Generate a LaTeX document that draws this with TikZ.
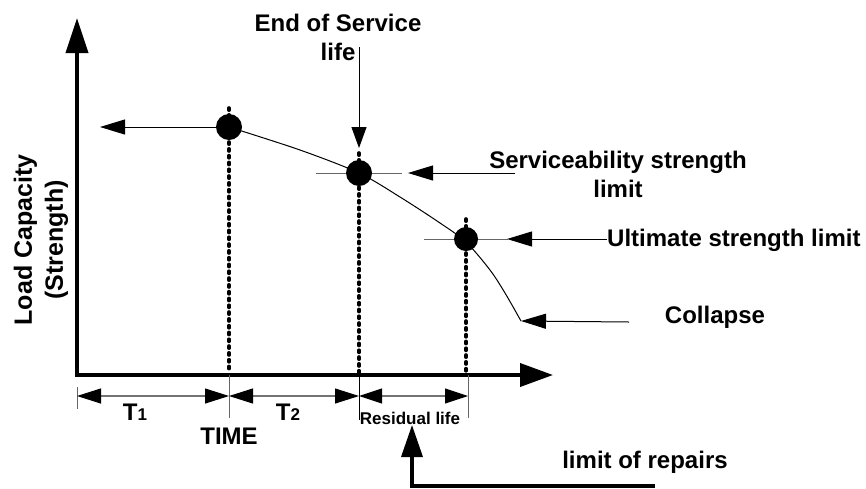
\documentclass[tikz,border=0pt]{standalone}
\usepackage{fontspec}
\setmainfont{Liberation Sans}
\usetikzlibrary{arrows.meta}
\begin{document}
\begin{tikzpicture}[x=1pt,y=-1pt,
  lbl/.style={font=\bfseries\fontsize{24}{29}\selectfont, inner sep=0pt, align=center},
  small lbl/.style={font=\bfseries\fontsize{17}{20}\selectfont, inner sep=0pt},
  thinline/.style={line width=1pt},
  dot/.style={circle, fill=black, minimum size=26pt, inner sep=0pt},
  dotline/.style={line width=3.6pt, dash pattern=on 2.2pt off 4.6pt, line cap=round},
  tick/.style={line width=1pt, draw=black!60},
  dim/.style={line width=1.1pt, draw=black!55},
  tipS/.style={-{Triangle[length=25pt,width=15pt,color=black]}},
  dimarrow/.style={dim,{Triangle[length=24pt,width=15pt,color=black]}-{Triangle[length=24pt,width=15pt,color=black]}},
  axis/.style={line width=3.8pt,{Triangle[length=35pt,width=22pt]}-{Triangle[length=33pt,width=23pt]}}
]
\useasboundingbox (0,0) rectangle (866,488);

% axes
\coordinate (Ytop) at (77,18);
\coordinate (O) at (77,375);
\coordinate (Xend) at (553,375);
\draw[axis] (Ytop) -- (O) -- (Xend);

% dotted verticals
\coordinate (Atop) at (229,108);
\coordinate (Abot) at (229,373);
\coordinate (Btop) at (359,153);
\coordinate (Bbot) at (359,373);
\coordinate (Ctop) at (466,219);
\coordinate (Cbot) at (466,373);
\draw[dotline] (Atop) -- (Abot);
\draw[dotline] (Btop) -- (Bbot);
\draw[dotline] (Ctop) -- (Cbot);

% horizontal ticks through B and C
\coordinate (BL) at (316,173);
\coordinate (BR) at (402,173);
\coordinate (CL) at (424,239);
\coordinate (CR) at (508,239);
\draw[tick] (BL) -- (BR);
\draw[tick] (CL) -- (CR);

% curve
\coordinate (Cend) at (521,321);
\draw[thinline] plot[smooth] coordinates {(229,127) (300,150) (359,173) (400,197) (440,223) (466,242) (490,270) (505,293) (521,321)};

% dots
\node[dot] (A) at (229,127) {};
\node[dot] (B) at (359,173) {};
\node[dot, minimum size=24pt] (C) at (466,239) {};

% arrow from A to the left
\coordinate (Aleft) at (100,127);
\draw[thinline, tipS] (A) -- (Aleft);

% End of service
\node[lbl] (eos) at (338,37) {End of Service\\life};
\coordinate (eosstart) at (359,47);
\coordinate (eostip) at (359,148);
\draw[thinline,-{Triangle[length=21pt,width=15pt]}] (eosstart) -- (eostip);

% Serviceability
\node[lbl] (serv) at (618,174) {Serviceability strength\\limit};
\coordinate (servstart) at (515,173);
\coordinate (servtip) at (408,173);
\draw[thinline, tipS] (servstart) -- (servtip);

% Ultimate
\node[lbl, anchor=west] (ult) at (607,240) {Ultimate strength limit};
\coordinate (ulttip) at (507,239);
\draw[thinline, tipS] (ult.west |- ulttip) -- (ulttip);

% Collapse
\node[lbl] (col) at (715,317) {Collapse};
\coordinate (colstart) at (629,322);
\draw[thinline, tipS] (colstart) -- (Cend);

% dimension ticks
\coordinate (t0a) at (77,387);   \coordinate (t0b) at (77,409);
\coordinate (t1a) at (229,375);  \coordinate (t1b) at (229,418);
\coordinate (t2a) at (359,375);  \coordinate (t2b) at (359,420);
\coordinate (t3a) at (468,375);  \coordinate (t3b) at (468,418);
\draw[tick] (t0a) -- (t0b);
\draw[tick] (t1a) -- (t1b);
\draw[thinline] (t2a) -- (t2b);
\draw[tick] (t3a) -- (t3b);

% dimension arrows
\coordinate (d0) at (77,396);
\coordinate (d1) at (229,396);
\coordinate (d2) at (359,396);
\coordinate (d3) at (468,396);
\draw[dimarrow] (d0) -- (d1);
\draw[dimarrow] (d1) -- (d2);
\draw[dim,{Triangle[length=23pt,width=15pt,color=black]}-{Triangle[length=23pt,width=15pt,color=black]}] (d2) -- (d3);

\node[lbl] (T1) at (135,412) {T{\fontsize{17}{20}\selectfont 1}};
\node[lbl] (T2) at (288,412) {T{\fontsize{17}{20}\selectfont 2}};
\node[lbl] (time) at (229,436) {TIME};
\node[small lbl] (res) at (410,418) {Residual life};

% limit of repairs
\node[lbl] (lor) at (645,462) {limit of repairs};
\coordinate (lorend) at (655,486);
\coordinate (lorcorner) at (412,486);
\coordinate (lortip) at (412,425);
\draw[line width=3.5pt,-{Triangle[length=32pt,width=21pt]}] (lorend) -- (lorcorner) -- (lortip);

% y label
\node[font=\bfseries\fontsize{25}{31}\selectfont, inner sep=0pt, align=center, rotate=90] (ylab) at (41,240) {Load Capacity\\(Strength)};
\end{tikzpicture}
\end{document}
